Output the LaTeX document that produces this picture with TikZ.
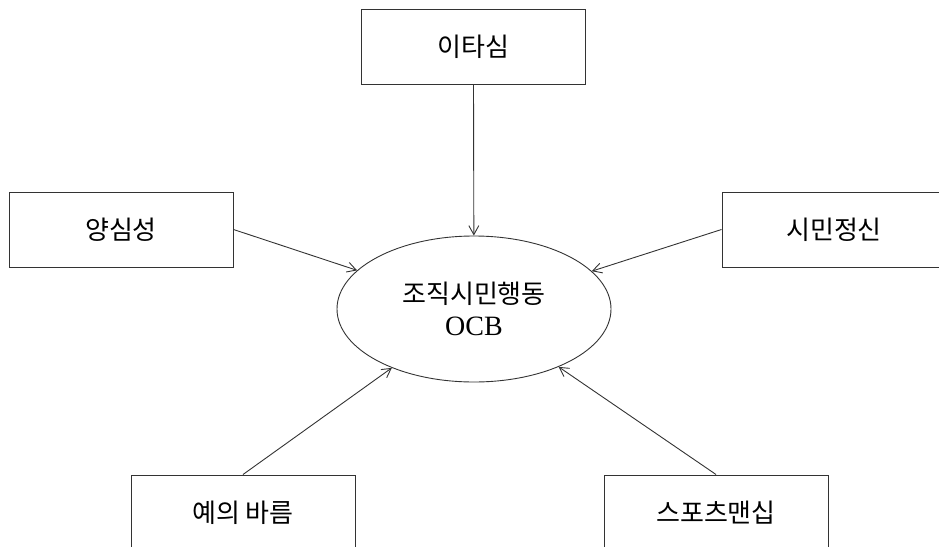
\documentclass[tikz,border=0pt]{standalone}
\usepackage{fontspec}
\setmainfont{Liberation Serif}
\newfontfamily\kr{Noto Sans CJK KR}[Scale=1]
\usetikzlibrary{arrows.meta,shapes.geometric}
\begin{document}
\begin{tikzpicture}[x=1pt,y=-1pt,
  box/.style={draw=black!80,line width=1pt,minimum width=224pt,minimum height=75pt,inner sep=0pt,font=\kr\fontsize{26}{30}\selectfont\addfontfeatures{}},
  conn/.style={draw=black!80,line width=0.9pt,-{Straight Barb[length=9pt,width=10pt,line width=0.9pt]}}]
\useasboundingbox (0,0) rectangle (939,546);
\clip (0,0) rectangle (939,546);
\node[box] (alt) at (473.5,46.5) {이타심};
\node[box] (con) at (121,229.5) {양심성};
\node[box] (civ) at (834,229.5) {시민정신};
\node[box] (cou) at (243,512.5) {예의 바름};
\node[box] (spo) at (716,512.5) {스포츠맨십};
\node[ellipse,draw=black!80,line width=0.9pt,minimum width=274pt,minimum height=146pt,inner sep=0pt,align=center,font=\fontsize{28}{32}\selectfont] (ocb) at (474,309) {{\kr\fontsize{26}{30}\selectfont 조직시민행동}\\OCB};
\draw[conn] (alt.south) -- (ocb);
\draw[conn] (con.east) -- (ocb);
\draw[conn] (civ.west) -- (ocb);
\draw[conn] (cou.north) -- (ocb);
\draw[conn] (spo.north) -- (ocb);
\end{tikzpicture}
\end{document}
